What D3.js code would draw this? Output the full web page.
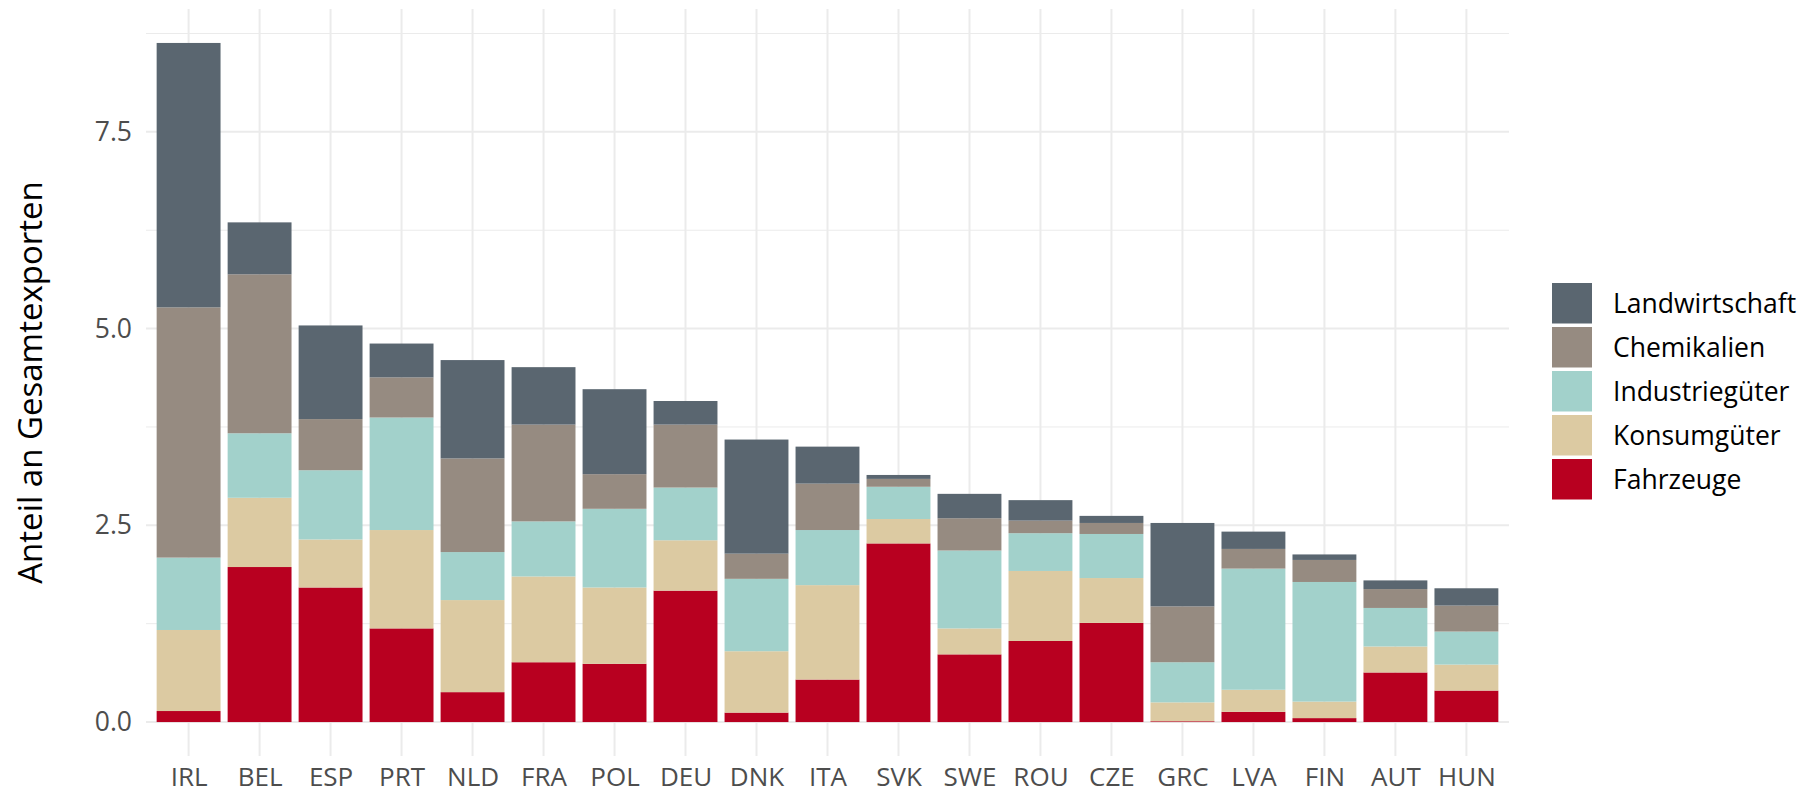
<!DOCTYPE html>
<html>
<head>
<meta charset="utf-8">
<script src="https://cdn.jsdelivr.net/npm/d3@7"></script>
<style>
  html, body { margin: 0; padding: 0; background: #fff; }
  svg { display: block; font-family: "Open Sans", "Noto Sans", sans-serif; }
</style>
</head>
<body>
<div id="chart"></div>
<script>
// countries, sorted by total share
const countries = ['IRL', 'BEL', 'ESP', 'PRT', 'NLD', 'FRA', 'POL', 'DEU', 'DNK', 'ITA',
  'SVK', 'SWE', 'ROU', 'CZE', 'GRC', 'LVA', 'FIN', 'AUT', 'HUN'];

// stack order bottom -> top
const sectors = ['Fahrzeuge', 'Konsumgüter', 'Industriegüter', 'Chemikalien', 'Landwirtschaft'];
const sectorColors = ['#b80020', '#dccaa2', '#a2d1cb', '#968b81', '#5a6670'];

const fahrzeuge      = [0.14, 1.97, 1.71, 1.19, 0.38, 0.76, 0.74, 1.67, 0.12, 0.54, 2.27, 0.86, 1.03, 1.26, 0.01, 0.13, 0.05, 0.63, 0.40];
const konsumgueter   = [1.03, 0.88, 0.61, 1.25, 1.17, 1.09, 0.97, 0.64, 0.78, 1.20, 0.31, 0.33, 0.89, 0.57, 0.24, 0.28, 0.21, 0.33, 0.33];
const industrie      = [0.92, 0.82, 0.88, 1.43, 0.61, 0.70, 1.00, 0.67, 0.92, 0.70, 0.41, 0.99, 0.48, 0.56, 0.51, 1.54, 1.52, 0.49, 0.42];
const chemikalien    = [3.18, 2.02, 0.65, 0.51, 1.19, 1.23, 0.44, 0.80, 0.32, 0.59, 0.10, 0.41, 0.16, 0.14, 0.71, 0.25, 0.28, 0.24, 0.33];
const landwirtschaft = [3.36, 0.66, 1.19, 0.43, 1.25, 0.73, 1.08, 0.30, 1.45, 0.47, 0.05, 0.31, 0.26, 0.09, 1.06, 0.22, 0.07, 0.11, 0.22];

const yTicks = [0, 2.5, 5, 7.5];
const yMinor = [1.25, 3.75, 6.25, 8.75];
const yTitle = 'Anteil an Gesamtexporten';

const width = 1807, height = 795;
const panel = {left: 146, right: 1509, top: 9, bottom: 756};

const series = [fahrzeuge, konsumgueter, industrie, chemikalien, landwirtschaft];
const rows = countries.map((c, i) => {
  const r = {country: c};
  sectors.forEach((s, j) => { r[s] = series[j][i]; });
  return r;
});
const stacked = d3.stack().keys(sectors)(rows);

const svg = d3.select('#chart').append('svg')
  .attr('width', width)
  .attr('height', height);

const x = d3.scalePoint()
  .domain(countries)
  .range([panel.left, panel.right])
  .padding(0.6);
const step = x.step();
const barW = step * 0.9;

const maxTotal = d3.max(rows, r => d3.sum(sectors, s => r[s]));
const pad = maxTotal * 0.05;
const y = d3.scaleLinear()
  .domain([-pad, maxTotal + pad])
  .range([panel.bottom, panel.top]);

const color = d3.scaleOrdinal().domain(sectors).range(sectorColors);

// grid
const grid = svg.append('g');
grid.selectAll('.minor')
  .data(yMinor)
  .enter().append('line')
    .attr('x1', panel.left).attr('x2', panel.right)
    .attr('y1', d => y(d)).attr('y2', d => y(d))
    .attr('stroke', '#ebebeb')
    .attr('stroke-width', 1);
grid.selectAll('.major-y')
  .data(yTicks)
  .enter().append('line')
    .attr('x1', panel.left).attr('x2', panel.right)
    .attr('y1', d => y(d)).attr('y2', d => y(d))
    .attr('stroke', '#ebebeb')
    .attr('stroke-width', 2);
grid.selectAll('.major-x')
  .data(countries)
  .enter().append('line')
    .attr('x1', d => x(d)).attr('x2', d => x(d))
    .attr('y1', panel.top).attr('y2', panel.bottom)
    .attr('stroke', '#ebebeb')
    .attr('stroke-width', 2);

// bars
svg.append('g').selectAll('g')
  .data(stacked)
  .enter().append('g')
    .attr('fill', d => color(d.key))
  .selectAll('rect')
  .data(d => d)
  .enter().append('rect')
    .attr('x', d => x(d.data.country) - barW / 2)
    .attr('width', barW)
    .attr('y', d => y(d[1]))
    .attr('height', d => Math.max(0, y(d[0]) - y(d[1])));

// axes
const yAxis = svg.append('g')
  .attr('transform', `translate(${panel.left - 14},0)`)
  .call(d3.axisLeft(y).tickValues(yTicks).tickFormat(d3.format('.1f')).tickSize(0));
yAxis.select('.domain').remove();
yAxis.selectAll('text')
  .attr('x', 0)
  .attr('fill', '#4d4d4d')
  .style('font-size', '26.5px')
  .style('font-family', '"Open Sans", sans-serif');

const xAxis = svg.append('g')
  .attr('transform', `translate(0,${panel.bottom})`)
  .call(d3.axisBottom(x).tickSize(0));
xAxis.select('.domain').remove();
xAxis.selectAll('text')
  .attr('y', 12)
  .attr('dy', '0.71em')
  .attr('fill', '#4d4d4d')
  .style('font-size', '26px')
  .style('font-family', '"Open Sans", sans-serif');

svg.append('text')
  .attr('transform', `translate(42,${(panel.top + panel.bottom) / 2}) rotate(-90)`)
  .attr('text-anchor', 'middle')
  .attr('fill', '#000')
  .style('font-size', '33px')
  .text(yTitle);

// legend, top -> bottom reversed order
const legendKeys = sectors.slice().reverse();
const legend = svg.append('g')
  .attr('transform', 'translate(1552,283)');
const item = legend.selectAll('g')
  .data(legendKeys)
  .enter().append('g')
    .attr('transform', (d, i) => `translate(0,${i * 44})`);
item.append('rect')
  .attr('width', 40)
  .attr('height', 40.5)
  .attr('fill', d => color(d));
item.append('text')
  .attr('x', 61)
  .attr('y', 20.5)
  .attr('dy', '0.35em')
  .attr('fill', '#000')
  .style('font-size', '26.5px')
  .text(d => d);
</script>
</body>
</html>
